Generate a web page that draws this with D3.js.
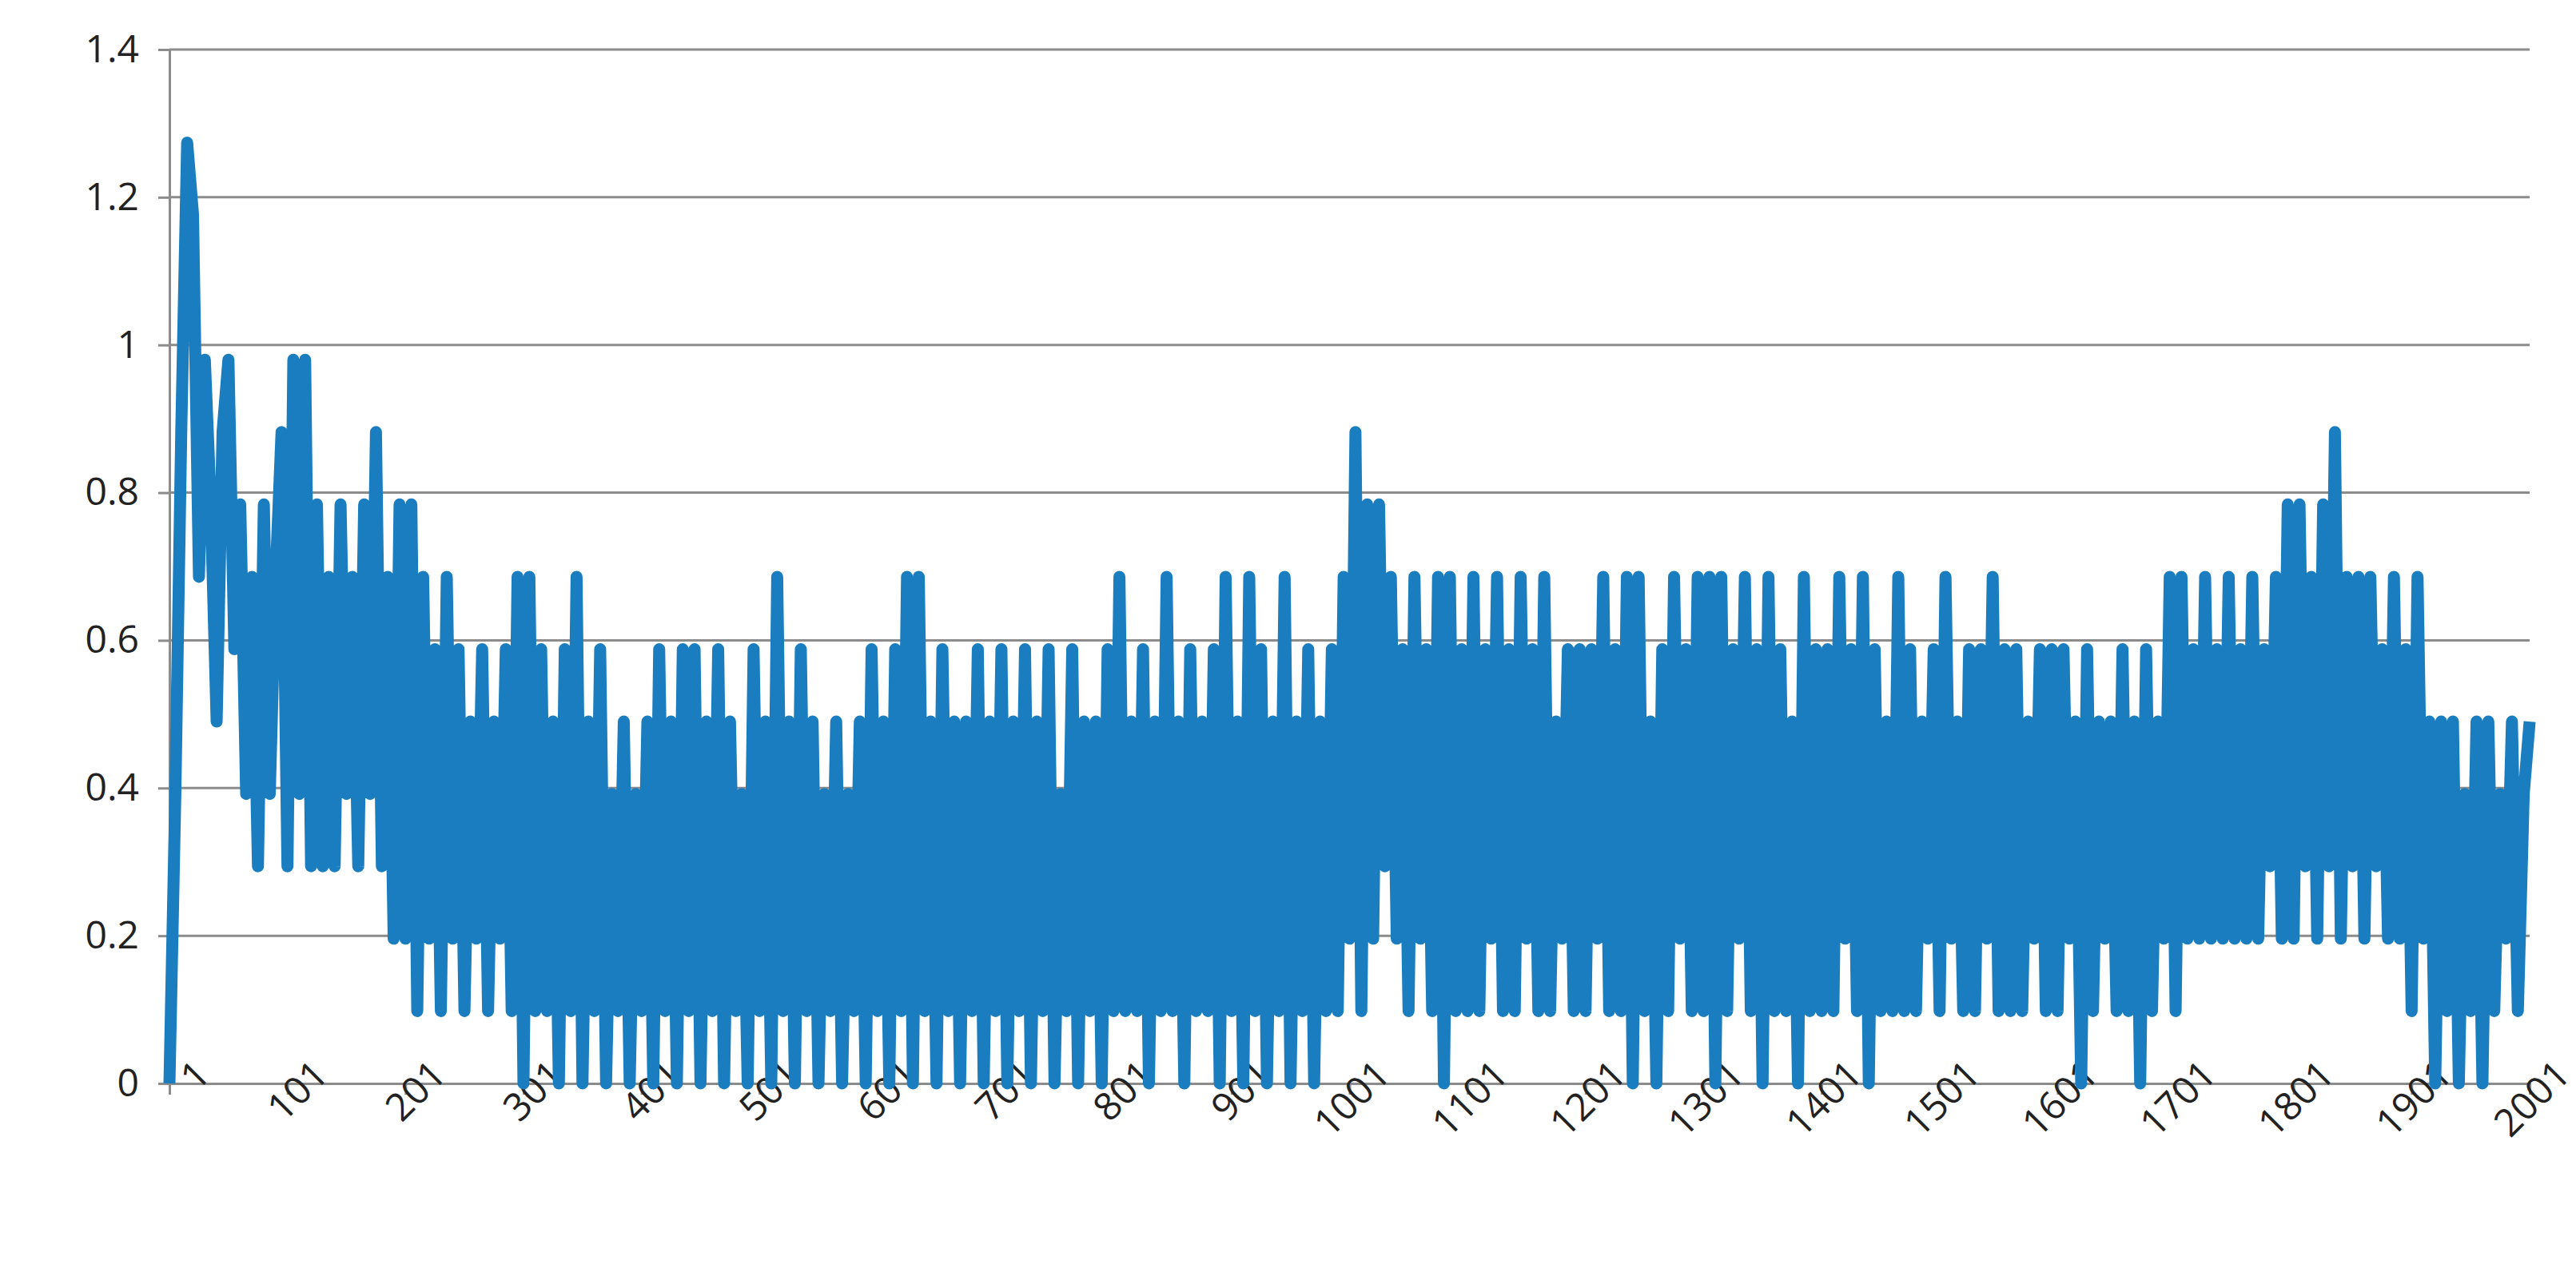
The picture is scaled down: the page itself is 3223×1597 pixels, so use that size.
<!DOCTYPE html>
<html>
<head>
<meta charset="utf-8">
<script src="https://cdn.jsdelivr.net/npm/d3@7"></script>
<style>
  body { margin: 0; background: #fff; }
  text { font-family: "Open Sans", "Liberation Sans", Arial, sans-serif; }
</style>
</head>
<body>
<div id="chart"></div>
<script>
// Values are quantised: each character is a level, value = level * levelUnit
const levelUnit = 0.098;
const xStep = 5;
const levelBlocks = [
    "049dc7a859a684738479", // 1-100
    "3a4a3837384738493728", // 101-200
    "28172617261526152617", // 201-300
    "07161506170516041504", // 301-400
    "15061506160516051406", // 401-500
    "15071506150415041506", // 501-600
    "15061707150615051605", // 601-700
    "16051605160416051506", // 701-800
    "17151605171506151607", // 801-900
    "15071605170516051617", // 901-1000
    "29182837261726170716", // 1001-1100
    "17162716172617152616", // 1101-1200
    "16271617071506172617", // 1201-1300
    "17071627160716150716", // 1301-1400
    "16172617061517161526", // 1401-1500
    "17251616271616152616", // 1501-1600
    "16250615251615061527", // 1601-1700
    "17262726272627263728", // 1701-1800
    "28372839273727362726", // 1801-1900
    "17250515041505142514", // 1901-2000
    "5"                     // 2001
];
const yTicks = [0, 0.2, 0.4, 0.6, 0.8, 1, 1.2, 1.4];
const xTicks = d3.range(1, 2002, 100);

const data = levelBlocks.join("").split("").map((c, i) => ({
    x: 1 + i * xStep,
    y: parseInt(c, 16) * levelUnit
}));

const width = 3223, height = 1597;
const margin = { left: 212, right: 58, top: 62, bottom: 241 };

const svg = d3.select("#chart").append("svg")
    .attr("width", width)
    .attr("height", height);

const x = d3.scaleLinear().domain([1, 2001]).range([margin.left, width - margin.right]);
const y = d3.scaleLinear().domain([0, 1.4]).range([height - margin.bottom, margin.top]);

// Gridlines
svg.selectAll("line.grid")
   .data(yTicks.filter(d => d > 0))
   .join("line")
   .attr("x1", margin.left).attr("x2", width - margin.right)
   .attr("y1", d => y(d)).attr("y2", d => y(d))
   .attr("stroke", "#8c8c8c").attr("stroke-width", 3);

// Y axis
const yAxis = svg.append("g")
    .attr("transform", `translate(${margin.left},0)`)
    .call(d3.axisLeft(y).tickValues(yTicks).tickSize(14).tickPadding(24)
        .tickFormat(d => String(+d.toFixed(1))));
yAxis.selectAll("path, line").attr("stroke", "#8c8c8c").attr("stroke-width", 3);
yAxis.selectAll("text").attr("font-size", 48).attr("fill", "#222");

// X axis
const xAxis = svg.append("g")
    .attr("transform", `translate(0,${y(0)})`)
    .call(d3.axisBottom(x).tickValues(xTicks).tickSize(14).tickPadding(8)
        .tickFormat(d => String(d)));
xAxis.selectAll("path, line").attr("stroke", "#8c8c8c").attr("stroke-width", 3);
xAxis.selectAll("text")
     .attr("font-size", 48).attr("fill", "#222")
     .attr("text-anchor", "end")
     .attr("dx", "0.9em").attr("dy", "0.2em")
     .attr("transform", "rotate(-45)");

// Series line
svg.append("path")
   .datum(data)
   .attr("fill", "none")
   .attr("stroke", "#1a7dc0")
   .attr("stroke-width", 15)
   .attr("stroke-linejoin", "round")
   .attr("d", d3.line().x(d => x(d.x)).y(d => y(d.y)));
</script>
</body>
</html>
